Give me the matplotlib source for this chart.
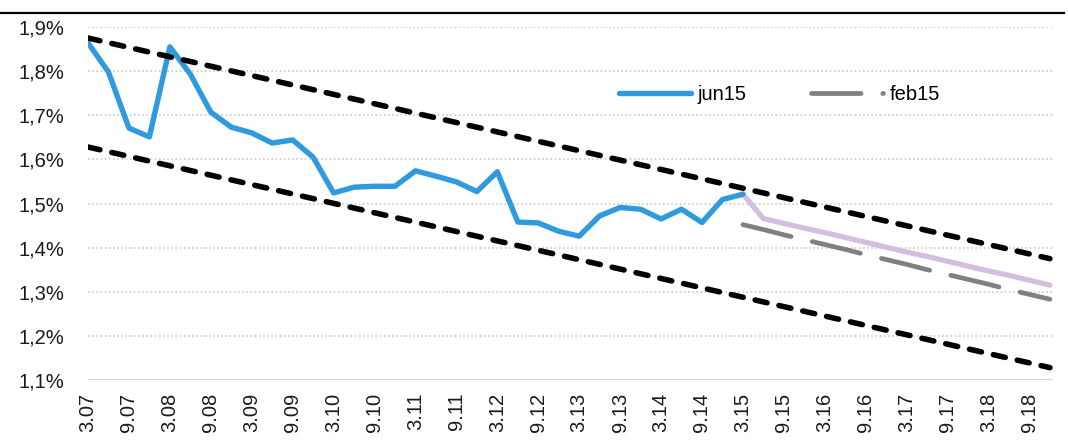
import matplotlib
matplotlib.use("Agg")
import matplotlib.pyplot as plt
from matplotlib.lines import Line2D
import numpy as np

plt.rcParams['font.family'] = ['Liberation Sans', 'DejaVu Sans']

# quarterly categories 3.07 ... 12.18 (labels every 2nd quarter)
years = list(range(7, 19))
months = [3, 6, 9, 12]
categories = [f"{m}.{y:02d}" for y in years for m in months]
tick_labels = [c if i % 2 == 0 else "" for i, c in enumerate(categories)]

jun15 = [1.864, 1.798, 1.671, 1.651, 1.855, 1.793, 1.707, 1.673, 1.660, 1.637,
         1.644, 1.605, 1.524, 1.537, 1.539, 1.539, 1.574, 1.562, 1.549, 1.527,
         1.572, 1.458, 1.456, 1.437, 1.426, 1.472, 1.491, 1.487, 1.465, 1.487,
         1.457, 1.509, 1.521]
jun15_forecast = [1.521, 1.466, 1.455, 1.444, 1.434, 1.423, 1.412, 1.401, 1.390,
                  1.380, 1.369, 1.358, 1.347, 1.337, 1.326, 1.315]
feb15 = [1.452, 1.441, 1.429, 1.418, 1.407, 1.396, 1.384, 1.373, 1.362, 1.350,
         1.339, 1.328, 1.317, 1.305, 1.294, 1.283]
upper_band = [1.875, 1.375]
lower_band = [1.628, 1.128]

yticks = [1.1, 1.2, 1.3, 1.4, 1.5, 1.6, 1.7, 1.8, 1.9]

fig = plt.figure(figsize=(10.68, 4.46), dpi=100)
ax = fig.add_axes([88 / 1068, 1 - 380 / 446, (1053 - 88) / 1068, (380 - 27) / 446])

n = len(categories)
x_all = np.arange(n)
x_hist = np.arange(len(jun15))
x_fc = np.arange(len(jun15) - 1, len(jun15) - 1 + len(jun15_forecast))
x_feb = np.arange(len(jun15) - 1, len(jun15) - 1 + len(feb15))
x_band = [0, n - 1]

blue = '#2F9BDE'
lilac = '#D4BEDF'
grey = '#808080'

ax.plot(x_fc, jun15_forecast, color=lilac, lw=3.8, solid_capstyle='round',
        solid_joinstyle='round', zorder=3)
ax.plot(x_feb, feb15, color=grey, lw=3.4, dashes=(10.5, 4.6),
        dash_capstyle='round', zorder=3, label='feb15')
ax.plot(x_hist, jun15, color=blue, lw=3.9, solid_capstyle='round',
        solid_joinstyle='round', zorder=4, label='jun15')
for band in (upper_band, lower_band):
    ax.plot(x_band, band, color='black', lw=4.0, dashes=(2.2, 2.2),
            dash_capstyle='round', zorder=5)

ax.set_xlim(0, 47.15)
ax.set_ylim(1.1, 1.9)
ax.set_yticks(yticks)
ax.set_yticklabels([f"{v:.1f}".replace('.', ',') + '%' for v in yticks])
ax.set_xticks(x_all)
ax.set_xticklabels(tick_labels, rotation=90)

for v in yticks[1:]:
    ax.axhline(v, color='#c9c9c9', lw=1.2, linestyle=(0, (1, 1.5)), zorder=1)
ax.axhline(1.1, color='#d6d6d6', lw=1.6, zorder=1)

for s in ax.spines.values():
    s.set_visible(False)
ax.tick_params(axis='both', length=0, labelsize=14.5, colors='#1a1a1a')
ax.tick_params(axis='y', pad=17)
ax.tick_params(axis='x', pad=9)

handles, labels = ax.get_legend_handles_labels()
order = [labels.index('jun15'), labels.index('feb15')]
leg = ax.legend([handles[i] for i in order], [labels[i] for i in order],
                loc='center left', bbox_to_anchor=(0.55, 0.81), ncol=2,
                frameon=False, fontsize=14.5, handlelength=3.6,
                handletextpad=0.3, columnspacing=3.2, borderpad=0,
                borderaxespad=0)

fig.add_artist(Line2D([0, 0.996], [1 - 12.5 / 446] * 2, color='black', lw=1.6,
                      transform=fig.transFigure))

fig.savefig('out.png', dpi=100)
